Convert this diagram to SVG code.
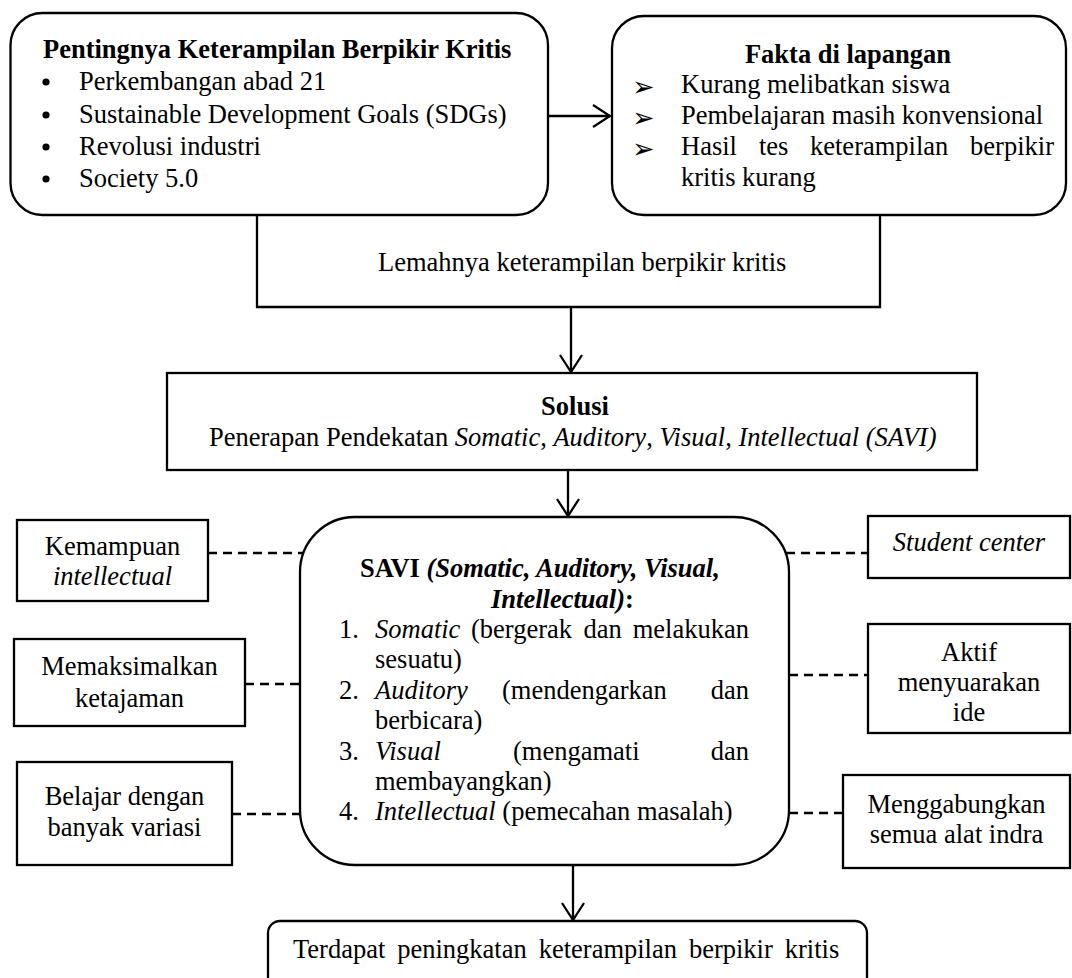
<svg xmlns="http://www.w3.org/2000/svg" width="1072" height="978" viewBox="0 0 1072 978">
<defs>
<style>
.t{font-family:"Liberation Serif","Times New Roman",serif;font-size:26.5px;fill:#000}
.b{font-weight:bold}
.i{font-style:italic}
.m{text-anchor:middle}
.e{text-anchor:end}
.ab{font-family:"DejaVu Sans",sans-serif;font-size:27px;fill:#000}
.box{fill:#fff;stroke:#000;stroke-width:2.3}
.c{fill:none;stroke:#000;stroke-width:2.3}
.d{fill:none;stroke:#000;stroke-width:2.3;stroke-dasharray:9 6}
</style>
<marker id="ah" viewBox="0 0 20 24" refX="18" refY="12" markerWidth="20" markerHeight="24" markerUnits="userSpaceOnUse" orient="auto">
<path d="M1,1 L18,12 L1,23" fill="none" stroke="#000" stroke-width="2.3"/>
</marker>
</defs>
<rect width="1072" height="978" fill="#fff"/>

<g id="connectors">
<line class="c" x1="548" y1="116" x2="610" y2="116" marker-end="url(#ah)"/>
<line class="c" x1="571" y1="307" x2="571" y2="372" marker-end="url(#ah)"/>
<line class="c" x1="568" y1="470" x2="568" y2="516" marker-end="url(#ah)"/>
<line class="c" x1="573" y1="865" x2="573" y2="920" marker-end="url(#ah)"/>
<line class="d" x1="208" y1="553" x2="303" y2="553"/>
<line class="d" x1="245" y1="684" x2="300" y2="684"/>
<line class="d" x1="232" y1="814" x2="300" y2="814"/>
<line class="d" x1="786" y1="553" x2="868" y2="553"/>
<line class="d" x1="789" y1="675" x2="868" y2="675"/>
<line class="d" x1="789" y1="813" x2="843" y2="813"/>
</g>

<g id="node-pentingnya">
<rect class="box" x="10.5" y="13" width="537.5" height="202" rx="32"/>
<text class="t b" x="43" y="58">Pentingnya Keterampilan Berpikir Kritis</text>
<circle cx="46" cy="82" r="3.6"/>
<circle cx="46" cy="115" r="3.6"/>
<circle cx="46" cy="147" r="3.6"/>
<circle cx="46" cy="179" r="3.6"/>
<text class="t" x="79" y="90">Perkembangan abad 21</text>
<text class="t" x="79" y="123">Sustainable Development Goals (SDGs)</text>
<text class="t" x="79" y="155">Revolusi industri</text>
<text class="t" x="79" y="187">Society 5.0</text>
</g>

<g id="node-fakta">
<rect class="box" x="612" y="16" width="454" height="199" rx="32"/>
<text class="t b m" x="848" y="63">Fakta di lapangan</text>
<text class="ab" x="632" y="96">➢</text>
<text class="ab" x="632" y="127">➢</text>
<text class="ab" x="632" y="158">➢</text>
<text class="t" x="681" y="93">Kurang melibatkan siswa</text>
<text class="t" x="681" y="124">Pembelajaran masih konvensional</text>
<text class="t" y="155"><tspan x="681">Hasil</tspan><tspan x="759">tes</tspan><tspan x="810">keterampilan</tspan><tspan x="1054" text-anchor="end">berpikir</tspan></text>
<text class="t" x="681" y="186">kritis kurang</text>
</g>

<g id="node-lemahnya">
<path class="c" d="M257,215 V307 H880 V215"/>
<text class="t" x="378" y="271">Lemahnya keterampilan berpikir kritis</text>
</g>

<g id="node-solusi">
<rect class="box" x="167" y="373" width="810" height="97"/>
<text class="t b m" x="575" y="415">Solusi</text>
<text class="t" x="209" y="446">Penerapan Pendekatan <tspan class="i">Somatic</tspan>, <tspan class="i">Auditory</tspan>, <tspan class="i">Visual</tspan>, <tspan class="i">Intellectual (SAVI)</tspan></text>
</g>

<g id="node-savi">
<rect class="box" x="300" y="517" width="489" height="348" rx="55"/>
<text class="t b" x="360" y="577">SAVI <tspan class="i">(Somatic, Auditory, Visual,</tspan></text>
<text class="t b" x="491" y="608"><tspan class="i">Intellectual)</tspan>:</text>
<text class="t" x="339" y="638">1.</text>
<text class="t" y="638"><tspan class="i" x="375">Somatic</tspan><tspan x="471">(bergerak</tspan><tspan x="583.5">dan</tspan><tspan x="749" text-anchor="end">melakukan</tspan></text>
<text class="t" x="375" y="668">sesuatu)</text>
<text class="t" x="339" y="699">2.</text>
<text class="t" y="699"><tspan class="i" x="375">Auditory</tspan><tspan x="502">(mendengarkan</tspan><tspan x="749" text-anchor="end">dan</tspan></text>
<text class="t" x="375" y="729">berbicara)</text>
<text class="t" x="339" y="760">3.</text>
<text class="t" y="760"><tspan class="i" x="375">Visual</tspan><tspan x="513">(mengamati</tspan><tspan x="749" text-anchor="end">dan</tspan></text>
<text class="t" x="375" y="790">membayangkan)</text>
<text class="t" x="339" y="820">4.</text>
<text class="t" x="375" y="820"><tspan class="i">Intellectual</tspan> (pemecahan masalah)</text>
</g>

<g id="node-kemampuan">
<rect class="box" x="17" y="520" width="191" height="81"/>
<text class="t m" x="112.5" y="555">Kemampuan</text>
<text class="t i m" x="112.5" y="585">intellectual</text>
</g>

<g id="node-memaksimalkan">
<rect class="box" x="14" y="639" width="231" height="87"/>
<text class="t m" x="129.5" y="675">Memaksimalkan</text>
<text class="t m" x="129.5" y="707">ketajaman</text>
</g>

<g id="node-belajar">
<rect class="box" x="17" y="762" width="215" height="103"/>
<text class="t m" x="124.5" y="805">Belajar dengan</text>
<text class="t m" x="124.5" y="836">banyak variasi</text>
</g>

<g id="node-student">
<rect class="box" x="868" y="516" width="202" height="62"/>
<text class="t i m" x="969" y="551">Student center</text>
</g>

<g id="node-aktif">
<rect class="box" x="868" y="624" width="202" height="109"/>
<text class="t m" x="969" y="661">Aktif</text>
<text class="t m" x="969" y="691">menyuarakan</text>
<text class="t m" x="969" y="721">ide</text>
</g>

<g id="node-menggabungkan">
<rect class="box" x="843" y="775" width="227" height="93"/>
<text class="t m" x="956.5" y="813">Menggabungkan</text>
<text class="t m" x="956.5" y="843">semua alat indra</text>
</g>

<g id="node-terdapat">
<rect class="box" x="268" y="921" width="599" height="80" rx="12"/>
<text class="t" x="293" y="958" word-spacing="5.3">Terdapat peningkatan keterampilan berpikir kritis</text>
</g>
</svg>
